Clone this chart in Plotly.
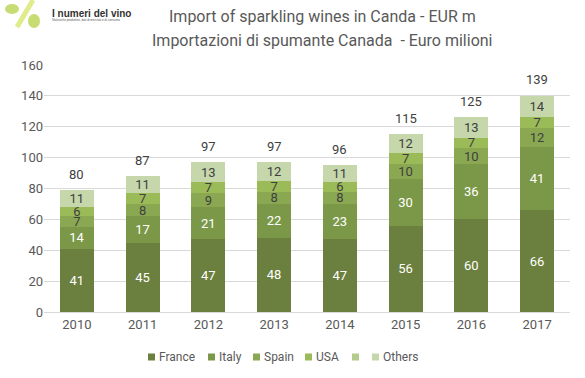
import plotly.graph_objects as go

years = ["2010", "2011", "2012", "2013", "2014", "2015", "2016", "2017"]
france = [41, 45, 47, 48, 47, 56, 60, 66]
italy = [14, 17, 21, 22, 23, 30, 36, 41]
spain = [7, 8, 9, 8, 8, 10, 10, 12]
usa = [6, 7, 7, 7, 6, 7, 7, 7]
blank = [0, 0, 0, 0, 0, 0, 0, 0]
others = [11, 11, 13, 12, 11, 12, 13, 14]
totals = [80, 87, 97, 97, 96, 115, 125, 139]
series_names = ["France", "Italy", "Spain", "USA", "", "Others"]

colors = ["#6b803e", "#7b9848", "#8aa851", "#9bbb59", "#b3cb8b", "#c5d7ab"]
text_colors = ["white", "white", "#404040", "#404040", "#404040", "#404040"]
values = [france, italy, spain, usa, blank, others]

FONT = "Liberation Sans Narrow, Arial Narrow, Roboto, sans-serif"

fig = go.Figure()
for name, vals, color, tcolor in zip(series_names, values, colors, text_colors):
    fig.add_trace(go.Bar(
        x=years, y=vals, name=name or " ", marker=dict(color=color, line=dict(width=0)),
        text=[str(v) if v else "" for v in vals], textposition="inside",
        insidetextanchor="middle", textangle=0, constraintext="none",
        textfont=dict(color=tcolor, size=13, family=FONT),
        cliponaxis=False, showlegend=False,
    ))

tops = [sum(col) for col in zip(*values)]
for i, (top, tot) in enumerate(zip(tops, totals)):
    fig.add_annotation(x=i, y=top, text=str(tot), showarrow=False, yanchor="middle",
                       yshift=16, font=dict(color="#404040", size=13, family=FONT))

L, R, T, B, W, H = 44, 15, 65, 66, 585, 378
PW, PH = W - L - R, H - T - B

def px_x(px):
    return (px - L) / PW

def px_y(py):
    return (H - B - py) / PH

fig.update_layout(
    barmode="stack", bargap=0.48,
    width=W, height=H,
    margin=dict(l=L, r=R, t=T, b=B, autoexpand=False),
    paper_bgcolor="white", plot_bgcolor="white",
    font=dict(family=FONT, color="#595959", size=13),
    showlegend=False,
    xaxis=dict(type="category", range=[-0.5, len(years) - 0.5], showgrid=False,
               showline=True, linecolor="#d9d9d9", ticks="",
               tickfont=dict(size=13, color="#595959")),
    yaxis=dict(range=[0, 160], dtick=20, showgrid=True, gridcolor="#d9d9d9",
               zeroline=False, ticks="", tickfont=dict(size=13, color="#595959")),
)

# Custom legend (compact, like the original)
legend_x = [148, 208, 253, 305, 352, 372]
for name, color, sx in zip(series_names, colors, legend_x):
    fig.add_shape(type="rect", xref="paper", yref="paper",
                  x0=px_x(sx), x1=px_x(sx + 7), y0=px_y(360.5), y1=px_y(353.5),
                  fillcolor=color, line=dict(width=0))
    if name:
        fig.add_annotation(xref="paper", yref="paper", x=px_x(sx + 9), y=px_y(357),
                           xanchor="left", yanchor="middle", text=name, showarrow=False,
                           font=dict(size=12, color="#595959", family=FONT))

# Title (two lines)
fig.add_annotation(xref="paper", yref="paper", x=px_x(322), y=px_y(17), xanchor="center",
                   yanchor="middle", text="Import of sparkling wines in Canda - EUR m",
                   showarrow=False, font=dict(size=16, color="#595959", family=FONT))
fig.add_annotation(xref="paper", yref="paper", x=px_x(322), y=px_y(40), xanchor="center",
                   yanchor="middle", text="Importazioni di spumante Canada  - Euro milioni",
                   showarrow=False, font=dict(size=16, color="#595959", family=FONT))

# Logo (decorative)
fig.add_shape(type="line", xref="paper", yref="paper", x0=px_x(17), y0=px_y(27),
              x1=px_x(33), y1=px_y(0), line=dict(color="#e0eb8c", width=5))
fig.add_shape(type="circle", xref="paper", yref="paper", x0=px_x(5), y0=px_y(14),
              x1=px_x(19), y1=px_y(4), fillcolor="#c8dc74", line=dict(width=0))
fig.add_shape(type="circle", xref="paper", yref="paper", x0=px_x(28), y0=px_y(28),
              x1=px_x(40), y1=px_y(14), fillcolor="#c8dc74", line=dict(width=0))
fig.add_annotation(xref="paper", yref="paper", x=px_x(50), y=px_y(13), xanchor="left",
                   yanchor="middle", text="<b>I numeri del vino</b>", showarrow=False,
                   font=dict(size=10, color="#333333", family="Liberation Sans, Arial"))
fig.add_annotation(xref="paper", yref="paper", x=px_x(50), y=px_y(20), xanchor="left",
                   yanchor="middle", text="Statistiche produttive, dati di mercato e di consumo",
                   showarrow=False, font=dict(size=3, color="#555555", family="Liberation Sans, Arial"))

fig.write_html("out.html", config={"displayModeBar": False},
               post_script="document.body.style.margin='0';document.body.style.padding='0';")
